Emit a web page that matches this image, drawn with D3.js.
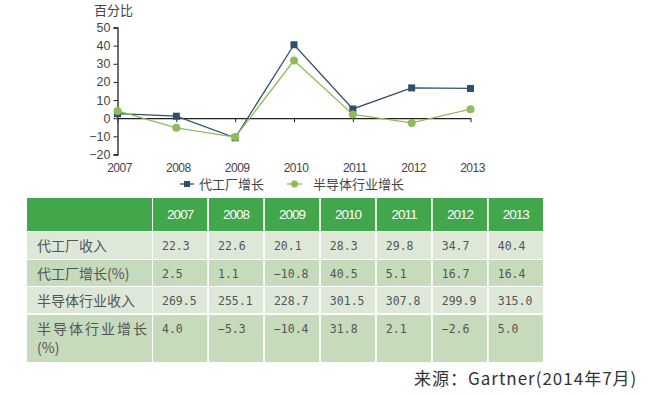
<!DOCTYPE html>
<html><head><meta charset="utf-8">
<script src="https://cdn.jsdelivr.net/npm/d3@7"></script>
<style>
html,body{margin:0;padding:0;background:#fff;}
svg{display:block;}
</style></head>
<body><svg id="c" width="650" height="395"></svg>
<script>
const years = ["2007","2008","2009","2010","2011","2012","2013"];
const foundryGrowth = [2.5, 1.1, -10.8, 40.5, 5.1, 16.7, 16.4];
const semiGrowth = [4.0, -5.3, -10.4, 31.8, 2.1, -2.6, 5.0];
const foundryRevenue = [22.3, 22.6, 20.1, 28.3, 29.8, 34.7, 40.4];
const semiRevenue = [269.5, 255.1, 228.7, 301.5, 307.8, 299.9, 315.0];
const yTicks = [50, 40, 30, 20, 10, 0, -10, -20];
const seriesNames = ["代工厂增长", "半导体行业增长"];
const rowLabels = ["代工厂收入", "代工厂增长(%)", "半导体行业收入", "半导体行业增长"];
const yAxisTitle = "百分比";
const sourceText = "来源：Gartner(2014年7月)";

const svg = d3.select("#c");
const cjk = "'Noto Sans CJK SC','Noto Sans',sans-serif";
const latin = "'Liberation Sans','DejaVu Sans',sans-serif";
const blue = "#2f4f6e", green = "#8dbd5a";

// ---- line chart ----
const x = d3.scalePoint().domain(years).range([117.5, 470.5]);
const y = d3.scaleLinear().domain([-20, 50]).range([154.5, 27.5]);

// y axis
const yAxis = svg.append("g").attr("transform", "translate(117.5,0)")
  .call(d3.axisLeft(y).tickValues(yTicks).tickSize(4).tickPadding(3).tickFormat(d3.format("d")));
yAxis.select(".domain").attr("stroke", "#222").attr("stroke-width", 1.3);
yAxis.selectAll(".tick line").attr("stroke", "#222");
yAxis.selectAll("text").attr("font-family", latin).attr("font-size", 12.5).attr("fill", "#444");

// x axis at zero
const xAxis = svg.append("g").attr("transform", `translate(0,${y(0)})`)
  .call(d3.axisBottom(x).tickSize(4).tickSizeOuter(0));
xAxis.select(".domain").attr("stroke", "#222").attr("stroke-width", 1.3);
xAxis.selectAll(".tick line").attr("stroke", "#222");
xAxis.selectAll(".tick text").remove();

// year labels at bottom
svg.append("g").selectAll("text").data(years).join("text")
  .attr("x", d => x(d) + 2).attr("y", 171.5)
  .attr("text-anchor", "middle").attr("font-family", latin).attr("font-size", 12)
  .attr("fill", "#444").attr("letter-spacing", -0.5).text(d => d);

svg.append("text").attr("x", 94).attr("y", 15).attr("font-family", cjk)
  .attr("font-size", 13).attr("fill", "#444").text(yAxisTitle);

const line = d3.line().x((d, i) => x(years[i])).y(d => y(d));
svg.append("path").datum(foundryGrowth).attr("d", line)
  .attr("fill", "none").attr("stroke", blue).attr("stroke-width", 1.3);
svg.append("path").datum(semiGrowth).attr("d", line)
  .attr("fill", "none").attr("stroke", green).attr("stroke-width", 1.3);

svg.append("g").selectAll("rect").data(foundryGrowth).join("rect")
  .attr("x", (d, i) => x(years[i]) - 3.5).attr("y", d => y(d) - 3.5)
  .attr("width", 7).attr("height", 7).attr("fill", blue);
svg.append("g").selectAll("circle").data(semiGrowth).join("circle")
  .attr("cx", (d, i) => x(years[i])).attr("cy", d => y(d))
  .attr("r", 4).attr("fill", green);

// legend
const lg = svg.append("g");
lg.append("line").attr("x1", 180).attr("x2", 194).attr("y1", 184).attr("y2", 184).attr("stroke", blue).attr("stroke-width", 1.3);
lg.append("rect").attr("x", 184).attr("y", 181).attr("width", 6).attr("height", 6).attr("fill", blue);
lg.append("text").attr("x", 199).attr("y", 189).attr("font-family", cjk).attr("font-size", 13).attr("fill", "#444").text(seriesNames[0]);
lg.append("line").attr("x1", 287).attr("x2", 302).attr("y1", 184).attr("y2", 184).attr("stroke", green).attr("stroke-width", 1.3);
lg.append("circle").attr("cx", 294.5).attr("cy", 184).attr("r", 3.5).attr("fill", green);
lg.append("text").attr("x", 313).attr("y", 189).attr("font-family", cjk).attr("font-size", 13).attr("fill", "#444").text(seriesNames[1]);

// ---- table ----
const fmt = d3.format(".1f");
const rowsData = [foundryRevenue, foundryGrowth, semiRevenue, semiGrowth];
const rowTops = [232, 260, 287, 315];
const rowBottoms = [259, 286, 313, 362];
const headTop = 198, headBottom = 231;
const labelX0 = 27, labelX1 = 152;
const col = d3.scaleBand().domain(years).range([153, 543]).paddingInner(0.03);
const rowFill = ["#dde8d9", "#c6dbbb", "#dde8d9", "#c6dbbb"];
const tg = svg.append("g");

// header
tg.append("rect").attr("x", labelX0).attr("y", headTop).attr("width", labelX1 - labelX0).attr("height", headBottom - headTop).attr("fill", "#42a64a");
tg.selectAll(".hc").data(years).join("rect").attr("class", "hc")
  .attr("x", d => col(d)).attr("y", headTop).attr("width", col.bandwidth()).attr("height", headBottom - headTop).attr("fill", "#42a64a");
tg.selectAll(".ht").data(years).join("text").attr("class", "ht")
  .attr("x", d => col(d) + col.bandwidth() / 2).attr("y", 219)
  .attr("text-anchor", "middle").attr("font-family", latin).attr("font-size", 13.5)
  .attr("letter-spacing", -1).attr("fill", "#fff").text(d => d);

rowsData.forEach((vals, r) => {
  const top = rowTops[r], h = rowBottoms[r] - rowTops[r];
  tg.append("rect").attr("x", labelX0).attr("y", top).attr("width", labelX1 - labelX0).attr("height", h).attr("fill", rowFill[r]);
  tg.append("g").selectAll("rect").data(years).join("rect")
    .attr("x", d => col(d)).attr("y", top).attr("width", col.bandwidth()).attr("height", h).attr("fill", rowFill[r]);
  const ty = top + 18;
  tg.append("g").selectAll("text").data(vals).join("text")
    .attr("x", (d, i) => col(years[i]) + 9).attr("y", ty)
    .attr("font-family", "'DejaVu Sans Mono',monospace").attr("font-size", 11.5)
    .attr("fill", "#555").text(d => fmt(d));
  const lt = tg.append("text").attr("x", 37).attr("y", ty + 1)
    .attr("font-family", cjk).attr("font-size", 14).attr("fill", "#555");
  if (r === 3) {
    lt.attr("letter-spacing", 2).text(rowLabels[r]);
    tg.append("text").attr("x", 37).attr("y", ty + 20).attr("font-family", cjk)
      .attr("font-size", 14).attr("fill", "#555").text("(%)");
  } else {
    lt.text(rowLabels[r]);
  }
});

svg.append("text").attr("x", 414).attr("y", 385).attr("font-family", cjk)
  .attr("font-size", 17).attr("letter-spacing", 1).attr("fill", "#333").text(sourceText);
</script></body></html>
